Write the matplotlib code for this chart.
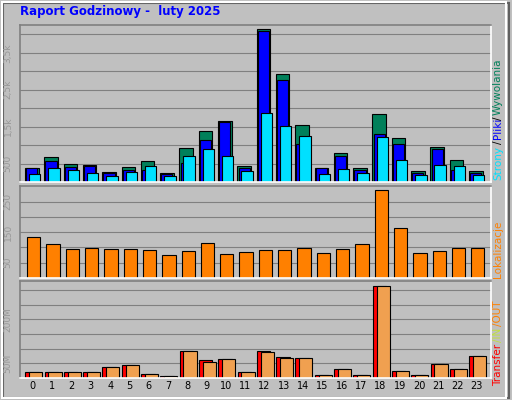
import matplotlib

matplotlib.use("Agg")

import matplotlib.pyplot as plt
import numpy as np

HOURS = list(range(24))
HITS = [391, 690, 500, 473, 282, 418, 582, 255, 909, 1373, 1655, 445,
        4155, 2927, 1536, 391, 773, 391, 1836, 1182, 309, 936, 609, 309]
FILES = [391, 582, 418, 445, 255, 336, 336, 227, 527, 1127, 1627, 391,
         4100, 2764, 1018, 391, 718, 336, 1291, 1018, 255, 882, 336, 255]
PAGES = [227, 391, 336, 255, 173, 282, 445, 173, 691, 882, 718, 309,
         1864, 1509, 1236, 227, 364, 255, 1209, 609, 200, 473, 445, 200]
SITES = [134, 111, 95, 98, 95, 95, 91, 75, 88, 114, 78, 85,
         91, 91, 98, 82, 95, 111, 287, 163, 82, 88, 98, 98]
TRANSFER = [22, 22, 22, 22, 36, 43, 15, 8, 91, 60, 63, 22,
            91, 70, 67, 11.5, 29, 11.5, 312, 25, 11.5, 46, 29, 74]
OUT = [22, 22, 22, 22, 36, 43, 15, 8, 91, 56, 63, 22,
       87, 67, 67, 11.5, 29, 11.5, 312, 25, 11.5, 46, 29, 74]

W, H = 512, 400
BG = "#c0c0c0"
GREEN = "#00805a"
BLUE = "#0000ff"
CYAN = "#00e0ff"
ORANGE = "#ff8000"
RED = "#ff0000"
LORANGE = "#f0a050"
XMAX = 24.4


def box(x0, y0, x1, y1):
    return [x0 / W, 1 - y1 / H, (x1 - x0) / W, (y1 - y0) / H]


def style(ax, ymax, grid, ticks, labels):
    ax.set_facecolor(BG)
    ax.set_xlim(0, XMAX)
    ax.set_ylim(0, ymax)
    ax.set_xticks([])
    ax.set_yticks([])
    for g in grid:
        ax.axhline(g, color="#808080", lw=0.8, zorder=0)
    for t, lab in zip(ticks, labels):
        ax.text(-0.025, t, lab, transform=ax.get_yaxis_transform(), rotation=90,
                ha="center", va="center", fontsize=6.5, color="#989898")
    for s in ax.spines.values():
        s.set_color("white")
        s.set_linewidth(1.2)
    ax.spines["top"].set_color("#808080")
    ax.spines["left"].set_color("#808080")


fig = plt.figure(figsize=(W / 100, H / 100), dpi=100, facecolor=BG)
fig.patches.append(plt.Rectangle((0.004, 0.006), 0.985, 0.988, transform=fig.transFigure,
                                 fill=False, edgecolor="white", lw=1.5))
fig.patches.append(plt.Rectangle((0.006, 0.004), 0.988, 0.988, transform=fig.transFigure,
                                 fill=False, edgecolor="#606060", lw=1.5, zorder=-1))
fig.text(20 / W, 1 - 12 / H, "Raport Godzinowy -  luty 2025", color="#0000ff",
         fontsize=8.5, fontweight="bold", va="center", ha="left")

x = np.array(HOURS)
kw = dict(align="edge", edgecolor="black", linewidth=0.8)

ax1 = fig.add_axes(box(20, 25, 491, 182))
style(ax1, 4254, range(500, 4500, 500), [500, 1500, 2500, 3500],
      ["500", "1,5k", "2,5k", "3,5k"])
ax1.bar(x + 0.26, HITS, width=0.7, color=GREEN, **kw)
ax1.bar(x + 0.32, FILES, width=0.58, color=BLUE, **kw)
ax1.bar(x + 0.47, PAGES, width=0.59, color=CYAN, **kw)

ax2 = fig.add_axes(box(20, 186, 491, 278))
style(ax2, 301, range(50, 300, 50), [50, 150, 250], ["50", "150", "250"])
ax2.bar(x + 0.37, SITES, width=0.69, color=ORANGE, **kw)

ax3 = fig.add_axes(box(20, 281, 491, 378))
style(ax3, 330, range(50, 330, 50), [50, 200], ["50M", "200M"])
ax3.bar(x + 0.27, TRANSFER, width=0.7, color=RED, **kw)
ax3.bar(x + 0.47, OUT, width=0.68, color=LORANGE, **kw)
for h in HOURS:
    ax3.text(h + 0.67, -0.08, str(h), transform=ax3.get_xaxis_transform(),
             ha="center", va="center", fontsize=7)


def side(parts, y_start):
    y = y_start
    for txt, col, length in parts:
        fig.text(498 / W, 1 - y / H, txt, color=col, rotation=90, fontsize=7.5,
                 ha="center", va="bottom")
        y -= length


side([("Strony", CYAN, 36), ("/", "black", 5), ("Pliki", BLUE, 19),
      ("/", "black", 5), ("Wywolania", GREEN, 60)], 180)
side([("Lokalizacje", ORANGE, 60)], 278)
side([("Transfer", RED, 44), ("/IN", "#c0e040", 16), ("/OUT", ORANGE, 30)], 386)

fig.savefig("out.png", dpi=100, facecolor=BG)
